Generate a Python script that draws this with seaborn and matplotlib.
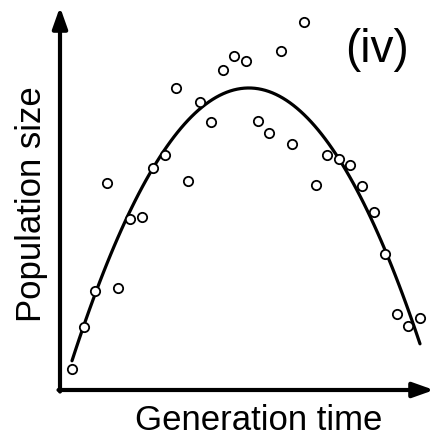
import numpy as np
import pandas as pd
import seaborn as sns
import matplotlib
matplotlib.use("Agg")
import matplotlib.pyplot as plt

# Observations: generation index and population size (arbitrary units)
generation = list(range(31))
population = [21, 63, 99, 207, 102, 171, 173, 222, 235, 302, 209, 288, 268,
              320, 334, 329, 269, 257, 339, 246, 368, 205, 235, 231, 225,
              204, 178, 136, 76, 64, 72]

x_label = "Generation time"
y_label = "Population size"
panel_label = "(iv)"

df = pd.DataFrame({"generation": generation, "population": population})

sns.set_theme(style="white")
plt.rcParams["font.family"] = ["Liberation Sans", "DejaVu Sans"]

W, H = 435, 442
fig = plt.figure(figsize=(W / 100, H / 100), dpi=100)
# axes box in pixels: left 60, right 434, top 7, bottom 390
ax = fig.add_axes([60 / W, 1 - 390 / H, (434 - 60) / W, (390 - 7) / H])
ax.set_facecolor("none")

# quadratic trend line
sns.regplot(data=df, x="generation", y="population", order=2, ci=None,
            truncate=True, scatter=False, ax=ax,
            line_kws=dict(color="black", lw=2.3, zorder=2))
# open-circle observations
sns.scatterplot(data=df, x="generation", y="population", ax=ax, s=45,
                facecolor="white", edgecolor="black", linewidth=1.3,
                zorder=3)

ax.set_xlim(-12 / 11.6, 362 / 11.6)
ax.set_ylim(0, 383)
for s in ax.spines.values():
    s.set_visible(False)
ax.set_xticks([])
ax.set_yticks([])
ax.set_xlabel("")
ax.set_ylabel("")

# arrowed axes
arrow = dict(arrowstyle="-|>,head_length=0.9,head_width=0.32", lw=3,
             color="black", mutation_scale=14, shrinkA=0, shrinkB=0)
ax.annotate("", xy=(1, 0), xytext=(-0.004, 0), xycoords="axes fraction",
            arrowprops=arrow, annotation_clip=False)
ax.annotate("", xy=(0, 1), xytext=(0, -0.004), xycoords="axes fraction",
            arrowprops=arrow, annotation_clip=False)

fig.text(259 / W, 1 - 421 / H, x_label, ha="center", va="center",
         fontsize=25, color="black")
fig.text(32 / W, 1 - 204 / H, y_label, ha="center", va="center",
         rotation=90, fontsize=25, color="black")
fig.text(377 / W, 1 - 50 / H, panel_label, ha="center", va="center",
         fontsize=33, color="black")

fig.savefig("out.png", dpi=100)
